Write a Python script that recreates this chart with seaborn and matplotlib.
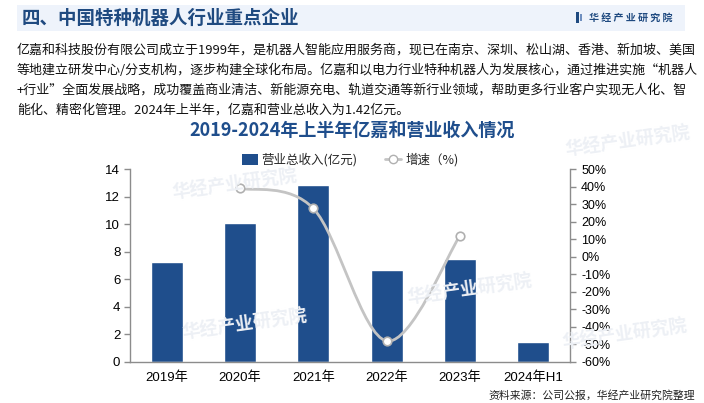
import numpy as np
import pandas as pd
import matplotlib
matplotlib.use("Agg")
import matplotlib.pyplot as plt
import seaborn as sns
from matplotlib.path import Path
from matplotlib.patches import PathPatch, Patch, Rectangle
from matplotlib.lines import Line2D

# ---------------- data ----------------
categories = ["2019年", "2020年", "2021年", "2022年", "2023年", "2024年H1"]
revenue = [7.25, 10.08, 12.82, 6.68, 7.48, 1.42]
growth_idx = [1, 2, 3, 4]
growth = [39.0, 27.5, -48.0, 12.0]
left_ticks = [0, 2, 4, 6, 8, 10, 12, 14]
right_ticks = [-60, -50, -40, -30, -20, -10, 0, 10, 20, 30, 40, 50]

header_title = "四、中国特种机器人行业重点企业"
logo_text = "华 经 产 业 研 究 院"
para_lines = [
    "亿嘉和科技股份有限公司成立于1999年，是机器人智能应用服务商，现已在南京、深圳、松山湖、香港、新加坡、美国",
    "等地建立研发中心/分支机构，逐步构建全球化布局。亿嘉和以电力行业特种机器人为发展核心，通过推进实施“机器人",
    "+行业”全面发展战略，成功覆盖商业清洁、新能源充电、轨道交通等新行业领域，帮助更多行业客户实现无人化、智",
    "能化、精密化管理。2024年上半年，亿嘉和营业总收入为1.42亿元。",
]
chart_title = "2019-2024年上半年亿嘉和营业收入情况"
legend_bar = "营业总收入(亿元)"
legend_line = "增速（%)"
source_text = "资料来源：公司公报，华经产业研究院整理"
watermark = "华经产业研究院"

# ---------------- style ----------------
sns.set_theme(style="white")
plt.rcParams["font.family"] = ["Liberation Sans", "Noto Sans CJK SC", "DejaVu Sans"]
CJK = ["Noto Sans CJK SC", "DejaVu Sans"]

BAR = "#1f4e8c"
DARK = "#1f4a80"
GRAY = "#8c8c8c"
LINE = "#c4c4c4"

W, H = 704, 403
fig = plt.figure(figsize=(W / 100, H / 100), dpi=100)
fig.patch.set_facecolor("white")

def fx(px):
    return px / W

def fy(py):
    return 1 - py / H

# header band
fig.patches.append(Rectangle((fx(17), fy(31)), fx(685) - fx(17), fy(5) - fy(31),
                             transform=fig.transFigure, facecolor="#eef3fb",
                             edgecolor="none", zorder=0))
fig.text(fx(22), fy(18), header_title, family=CJK, fontsize=13.3, fontweight="bold",
         color=DARK, ha="left", va="center")
# logo
fig.patches.append(Rectangle((fx(576), fy(23)), fx(3), fy(12) - fy(23),
                             transform=fig.transFigure, facecolor=DARK, edgecolor="none"))
fig.patches.append(Rectangle((fx(580), fy(21)), fx(2), fy(14) - fy(21),
                             transform=fig.transFigure, facecolor="#6f8fbf", edgecolor="none"))
fig.text(fx(589), fy(18), logo_text, family=CJK, fontsize=7.2, fontweight="bold",
         color=DARK, ha="left", va="center")

# watermarks (faint)
wm = [(235, 185), (470, 290), (245, 325), (628, 142), (625, 335)]
for (x, y) in wm:
    fig.text(fx(x), fy(y), watermark, family=CJK, fontsize=13, fontweight="bold",
             color="#edf0f5", ha="center", va="center", rotation=8, zorder=0)

# paragraph
for i, line in enumerate(para_lines):
    fig.text(fx(17), fy(50 + i * 20), line, family=CJK, fontsize=9.35,
             color="#111111", ha="left", va="center")

fig.text(fx(352), fy(130), chart_title, family=CJK, fontsize=13, fontweight="bold",
         color=BAR, ha="center", va="center")

fig.text(fx(695), fy(395), source_text, family=CJK, fontsize=7.8,
         color="#222222", ha="right", va="center")

# ---------------- axes ----------------
ax = fig.add_axes([fx(130), fy(362), fx(570) - fx(130), fy(169) - fy(362)])
ax.set_facecolor("none")
df = pd.DataFrame({"cat": categories, "rev": revenue})
sns.barplot(data=df, x="cat", y="rev", color=BAR, saturation=1, width=0.44, ax=ax, zorder=2)
ax.set_xlim(-0.5, len(categories) - 0.5)
ax.set_ylim(0, 14)
ax.set_yticks(left_ticks)
ax.set_xlabel("")
ax.set_ylabel("")
for s in ["top", "right"]:
    ax.spines[s].set_visible(False)
for s in ["left", "bottom"]:
    ax.spines[s].set_color(GRAY)
    ax.spines[s].set_linewidth(1)
ax.set_xticks(range(len(categories)))
ax.set_xticklabels(categories)
ax.tick_params(axis="x", length=0, pad=7, labelsize=9.5, colors="black")
ax.set_xticks(np.arange(-0.5, len(categories), 1), minor=True)
ax.tick_params(axis="x", which="minor", length=4, color=GRAY, width=1, direction="out")
ax.tick_params(axis="y", length=4, color=GRAY, width=1, direction="out", labelsize=9.5,
               pad=3, left=True, labelcolor="black")

ax2 = ax.twinx()
ax2.set_ylim(-60, 50)
ax2.set_yticks(right_ticks)
ax2.set_yticklabels([f"{t}%" for t in right_ticks])
for s in ["top", "left", "bottom"]:
    ax2.spines[s].set_visible(False)
ax2.spines["right"].set_color(GRAY)
ax2.spines["right"].set_linewidth(1)
ax2.tick_params(axis="y", length=4, color=GRAY, width=1, direction="out", labelsize=9,
                pad=4, right=True, labelcolor="black")
ax2.grid(False)
ax.grid(False)

# smooth growth line (Bezier through the data points)
px = np.array(growth_idx, dtype=float)
py = np.array(growth, dtype=float)
pts = np.column_stack([px, py])
verts = [tuple(pts[0])]
codes = [Path.MOVETO]
n = len(pts)
for i in range(n - 1):
    p0 = pts[i - 1] if i > 0 else pts[i]
    p1 = pts[i]
    p2 = pts[i + 1]
    p3 = pts[i + 2] if i + 2 < n else pts[i + 1]
    c1 = p1 + (p2 - p0) / 6.0
    c2 = p2 - (p3 - p1) / 6.0
    verts += [tuple(c1), tuple(c2), tuple(p2)]
    codes += [Path.CURVE4] * 3
ax2.add_patch(PathPatch(Path(verts, codes), facecolor="none", edgecolor=LINE,
                        linewidth=2, zorder=3))
sns.scatterplot(x=growth_idx, y=growth, ax=ax2, s=38, facecolor="white",
                edgecolor="#b0b0b0", linewidth=1.2, zorder=4, legend=False)
ax2.set_xlim(-0.5, len(categories) - 0.5)

# legend
handles = [Patch(facecolor=BAR, edgecolor="none"),
           Line2D([0], [0], color=LINE, lw=2, marker="o", markersize=6,
                  markerfacecolor="white", markeredgecolor="#b0b0b0")]
fig.legend(handles, [legend_bar, legend_line], loc="center",
           bbox_to_anchor=(fx(350), fy(160)), ncol=2, frameon=False,
           prop={"family": CJK, "size": 9}, handlelength=1.3, handleheight=0.9,
           columnspacing=2.2, handletextpad=0.3)

fig.savefig("out.png", dpi=100, facecolor="white")
